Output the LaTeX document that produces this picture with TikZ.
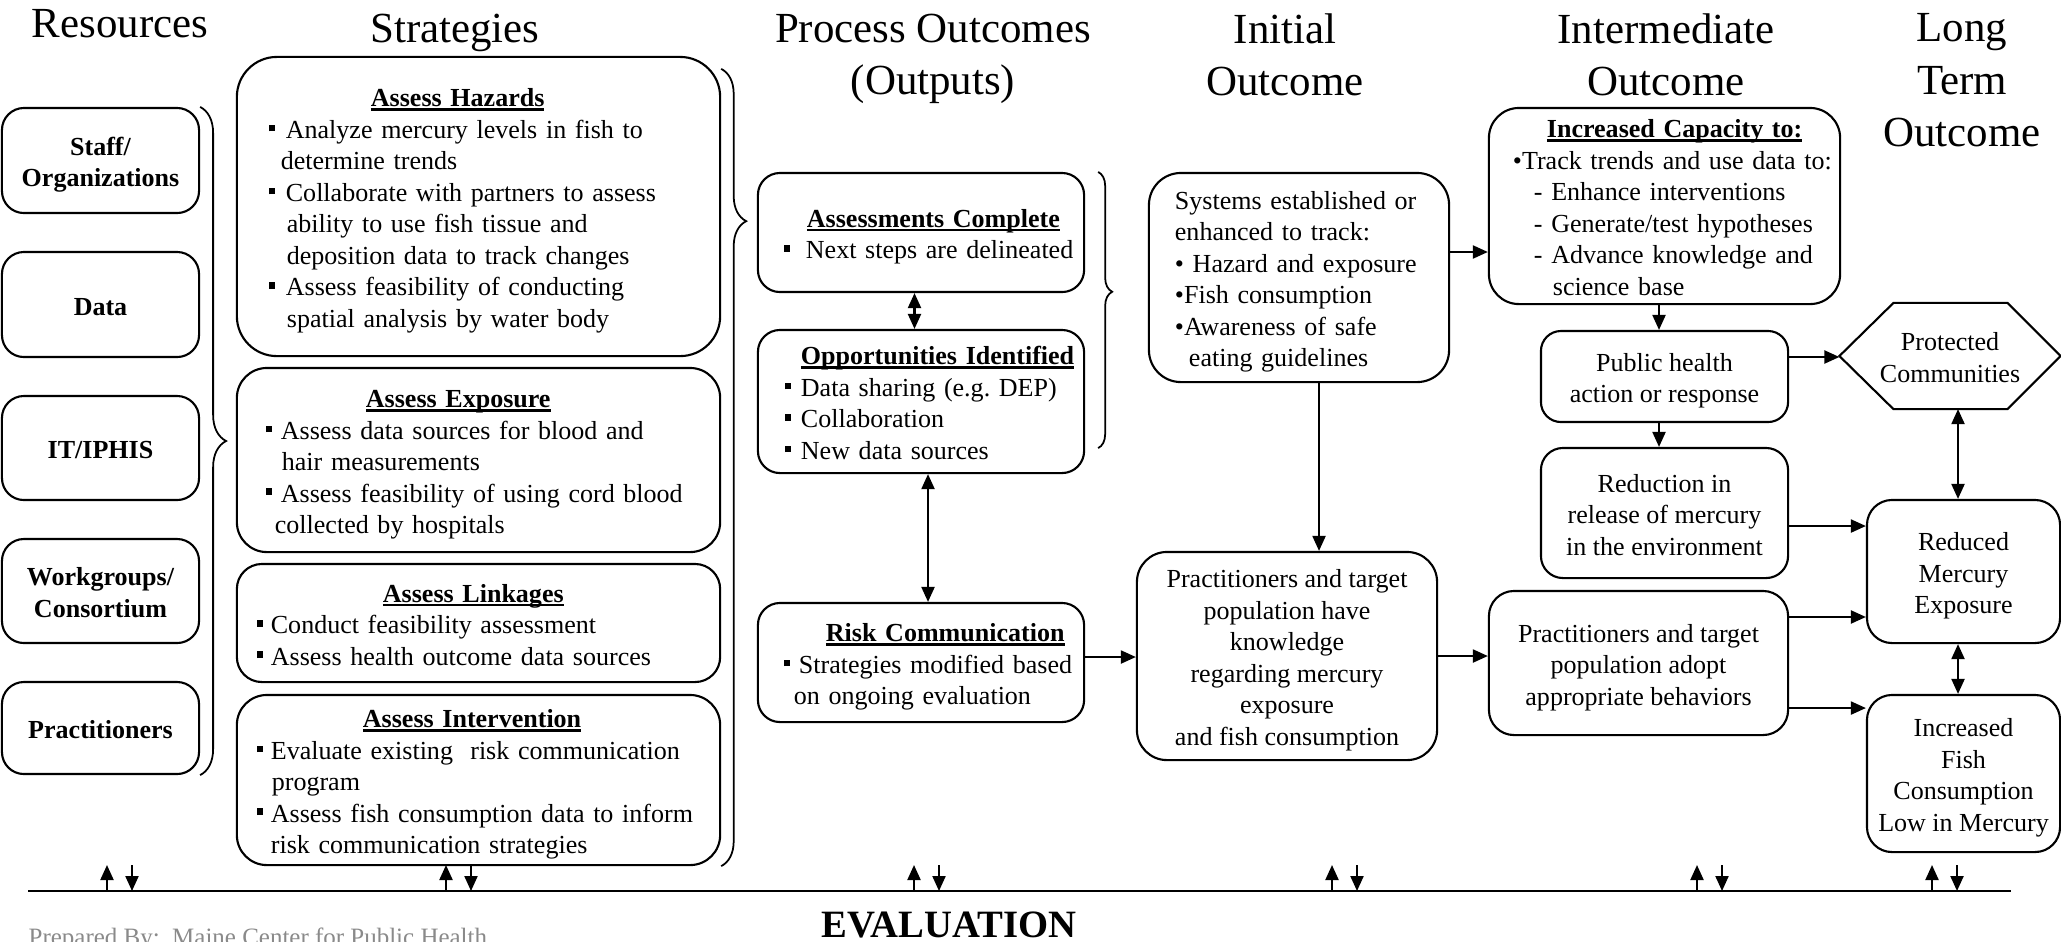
\documentclass[tikz,border=0pt]{standalone}
\usepackage{fontspec}
\setmainfont{Liberation Serif}
\usetikzlibrary{arrows.meta, decorations.pathreplacing, positioning}
\definecolor{footgray}{HTML}{8A8A8A}
\tikzset{
  ttl/.style={font=\fontsize{12.2}{14.9}\selectfont, align=center, inner sep=0pt},
  box/.style={rectangle, rounded corners=0.3cm, draw=black, line width=0.6pt, fill=white,
    inner sep=0pt, font=\fontsize{7.4}{8.95}\selectfont},
  ctr/.style={box, align=center, execute at end node={\rule[-0.06cm]{0pt}{0.06cm}}},
  res/.style={ctr, rounded corners=0.22cm, font=\fontsize{7.4}{8.9}\selectfont\bfseries, minimum width=1.97cm},
  txt/.style={box, text width=#1, execute at begin node={\raggedright\rule{0pt}{0.27cm}}},
  hexa/.style={ctr, draw=none, fill=none},
  arr/.style={-{Triangle[length=0.15cm, width=0.13cm]}, line width=0.6pt},
  dbl/.style={{Triangle[length=0.15cm, width=0.13cm]}-{Triangle[length=0.15cm, width=0.13cm]}, line width=0.6pt},
  brc/.style={decorate, line width=0.5pt},
}
\newcommand{\ST}{\rule{0pt}{0.27cm}}
\newcommand{\LS}[1]{\leftskip=#1\relax}
\newcommand{\EN}{\rule[-0.06cm]{0pt}{0.06cm}\par}
\newcommand{\UL}[1]{\setbox0=\hbox{#1}\rlap{\rule[-0.04cm]{\wd0}{0.025cm}}\box0}
\newcommand{\HD}[2]{\hspace*{#1}\textbf{\UL{#2}}\\}
\newcommand{\BL}[1][0.15cm]{\makebox[#1][l]{\rule[0.07cm]{0.065cm}{0.065cm}}}

\begin{document}
\begin{tikzpicture}[x=0.01cm, y=-0.01cm]
\fill[white] (0,0) rectangle (2061,941);
\useasboundingbox (0,0) rectangle (2061,941);

% column titles
\node[ttl, anchor=base]  (tRes)  at (120,37)  {Resources};
\node[ttl, anchor=base]  (tStr)  at (455,42)  {Strategies};
\node[ttl, anchor=north] (tPro)  at (933,13)  {Process Outcomes\\(Outputs)};
\node[ttl, anchor=north] (tIni)  at (1285,13) {Initial\\Outcome};
\node[ttl, anchor=north] (tInt)  at (1666,13) {Intermediate\\Outcome};
\node[ttl, anchor=north] (tLong) at (1962,13) {Long\\Term\\Outcome};

% resources
\node[res, minimum height=1.05cm] (rStaff) at (100.5,160.5) {\ST Staff/\\Organizations};
\node[res, minimum height=1.05cm] (rData)  at (100.5,304.5) {\ST Data};
\node[res, minimum height=1.04cm] (rIT)    at (100.5,448)   {\ST IT/IPHIS};
\node[res, minimum height=1.04cm] (rWork)  at (100.5,591)   {\ST Workgroups/\\Consortium};
\node[res, minimum height=0.92cm] (rPrac)  at (100.5,728)   {\ST Practitioners};

% strategies
\node[txt=4.71cm, minimum width=4.83cm, minimum height=2.99cm, rounded corners=0.4cm] (sHaz) at (478.5,206.5)
  {\LS{0.26cm}\HD{1.02cm}{Assess Hazards}
   \BL[0.17cm]Analyze mercury levels in fish to\\
   \hspace*{0.12cm}determine trends\\
   \BL[0.17cm]Collaborate with partners to assess\\
   \hspace*{0.18cm}ability to use fish tissue and\\
   \hspace*{0.18cm}deposition data to track changes\\
   \BL[0.17cm]Assess feasibility of conducting\\
   \hspace*{0.18cm}spatial analysis by water body\EN};
\node[txt=4.71cm, minimum width=4.83cm, minimum height=1.84cm] (sExp) at (478.5,460)
  {\LS{0.23cm}\HD{1.00cm}{Assess Exposure}
   \BL Assess data sources for blood and\\
   \hspace*{0.16cm}hair measurements\\
   \BL Assess feasibility of using cord blood\\
   \hspace*{0.09cm}collected by hospitals\EN};
\node[txt=4.71cm, minimum width=4.83cm, minimum height=1.18cm, rounded corners=0.25cm] (sLink) at (478.5,623)
  {\LS{0.14cm}\HD{1.26cm}{Assess Linkages}
   \BL[0.14cm]Conduct feasibility assessment\\
   \BL[0.14cm]Assess health outcome data sources\EN};
\node[txt=4.71cm, minimum width=4.83cm, minimum height=1.70cm] (sInt) at (478.5,780)
  {\LS{0.14cm}\HD{1.06cm}{Assess Intervention}
   \BL[0.14cm]Evaluate existing\ \ risk communication\\
   \hspace*{0.15cm}program\\
   \BL[0.14cm]Assess fish consumption data to inform\\
   \hspace*{0.14cm}risk communication strategies\EN};

% process outcomes
\node[txt=3.14cm, minimum width=3.26cm, minimum height=1.19cm, rounded corners=0.22cm] (pAss) at (921,232.5)
  {\LS{0.2cm}\HD{0.23cm}{Assessments Complete}
   \BL[0.22cm]Next steps are delineated\EN};
\node[txt=3.14cm, minimum width=3.26cm, minimum height=1.43cm, rounded corners=0.22cm] (pOpp) at (921,401.5)
  {\LS{0.21cm}\HD{0.16cm}{Opportunities Identified}
   \BL[0.16cm]Data sharing (e.g.\ DEP)\\
   \BL[0.16cm]Collaboration\\
   \BL[0.16cm]New data sources\EN};
\node[txt=3.14cm, minimum width=3.26cm, minimum height=1.19cm, rounded corners=0.22cm] (pRisk) at (921,662.5)
  {\LS{0.2cm}\HD{0.42cm}{Risk Communication}
   \BL Strategies modified based\\
   \hspace*{0.10cm}on ongoing evaluation\EN};

% initial outcome
\node[txt=2.88cm, minimum width=3.00cm, minimum height=2.09cm, rounded corners=0.32cm] (iSys) at (1299,277.5)
  {\LS{0.2cm}Systems established or\\
   enhanced to track:\\
   • Hazard and exposure\\
   •Fish consumption\\
   •Awareness of safe\\
   \hspace*{0.14cm}eating guidelines\EN};
\node[ctr, minimum width=3.00cm, minimum height=2.08cm] (iKnow) at (1287,656)
  {\ST Practitioners and target\\population have\\knowledge\\regarding mercury\\exposure\\and fish consumption};

% intermediate outcome
\node[txt=3.39cm, minimum width=3.51cm, minimum height=1.96cm] (mCap) at (1664.5,206)
  {\LS{0.18cm}\HD{0.34cm}{Increased Capacity to:}
   •Track trends and use data to:\\
   \hspace*{0.21cm}- Enhance interventions\\
   \hspace*{0.21cm}- Generate/test hypotheses\\
   \hspace*{0.21cm}- Advance knowledge and\\
   \hspace*{0.40cm}science base\EN};
\node[ctr, minimum width=2.47cm, minimum height=0.91cm, rounded corners=0.2cm] (mPub) at (1664.5,376.5)
  {\ST Public health\\action or response};
\node[ctr, minimum width=2.47cm, minimum height=1.30cm, rounded corners=0.22cm] (mRed) at (1664.5,513)
  {\ST Reduction in\\release of mercury\\in the environment};
\node[ctr, minimum width=2.99cm, minimum height=1.44cm, rounded corners=0.25cm] (mAdopt) at (1638.5,663)
  {\ST Practitioners and target\\population adopt\\appropriate behaviors};

% long term outcome
\node[hexa, minimum width=2.19cm, minimum height=1.04cm] (lProt) at (1950,356) {\ST Protected\\Communities};
\draw[line width=0.6pt] (lProt.west) -- ([xshift=0.54cm]lProt.north west) -- ([xshift=-0.53cm]lProt.north east)
  -- (lProt.east) -- ([xshift=-0.53cm]lProt.south east) -- ([xshift=0.54cm]lProt.south west) -- cycle;
\node[ctr, minimum width=1.93cm, minimum height=1.43cm, rounded corners=0.25cm] (lExp) at (1963.5,571.5)
  {\ST Reduced\\Mercury\\Exposure};
\node[ctr, minimum width=1.93cm, minimum height=1.57cm, rounded corners=0.25cm] (lFish) at (1963.5,773.5)
  {\ST Increased\\Fish\\Consumption\\Low in Mercury};

% braces
\draw[brc, decoration={brace, amplitude=0.26cm}] (rStaff.north east) -- (rPrac.south east);
\draw[brc, decoration={brace, amplitude=0.25cm, aspect=0.191}] ([yshift=-0.13cm]sHaz.north east) -- (sInt.south east);
\draw[brc, decoration={brace, amplitude=0.14cm, aspect=0.434}] ([xshift=0.13cm]pAss.north east) -- ([xshift=0.13cm, yshift=0.26cm]pOpp.south east);

% connectors
\draw[dbl] ([xshift=-0.065cm]pAss.south) -- ([xshift=-0.065cm]pOpp.north);
\draw[dbl] ([xshift=0.07cm]pOpp.south) -- ([xshift=0.07cm]pRisk.north);
\coordinate (aRisk) at ([yshift=0.055cm]pRisk.east);
\draw[arr] (aRisk) -- (aRisk -| iKnow.west);
\coordinate (aSysD) at ([xshift=0.2cm]iSys.south);
\draw[arr] (aSysD) -- (aSysD |- iKnow.north);
\coordinate (aSysR) at ([yshift=0.255cm]iSys.east);
\draw[arr] (aSysR) -- (aSysR -| mCap.west);
\draw[arr] (iKnow.east) -- (iKnow.east -| mAdopt.west);
\draw[arr] ([xshift=-0.055cm]mCap.south) -- ([xshift=-0.055cm]mPub.north);
\draw[arr] ([xshift=-0.055cm]mPub.south) -- ([xshift=-0.055cm]mRed.north);
\coordinate (aPub) at ([yshift=0.195cm]mPub.east);
\draw[arr] (aPub) -- (aPub -| lProt.west);
\coordinate (aRed) at ([yshift=-0.13cm]mRed.east);
\draw[arr] (aRed) -- (aRed -| lExp.west);
\coordinate (aAd1) at ([yshift=0.46cm]mAdopt.east);
\draw[arr] (aAd1) -- (aAd1 -| lExp.west);
\coordinate (aAd2) at ([yshift=-0.45cm]mAdopt.east);
\draw[arr] (aAd2) -- (aAd2 -| lFish.west);
\coordinate (aExp) at ([xshift=-0.055cm]lExp.north);
\draw[dbl] (aExp) -- (aExp |- lProt.south);
\draw[dbl] ([xshift=-0.055cm]lExp.south) -- ([xshift=-0.055cm]lFish.north);

% evaluation
\coordinate (evL) at (28,891);
\coordinate (evR) at (2011,891);
\draw[line width=0.6pt] (evL) -- (evR);
\foreach \ex [count=\i] in {107,446,914,1332,1697,1932}{
  \coordinate (up\i) at (\ex,891);
  \coordinate (dn\i) at (\ex+25,891);
  \draw[arr] (up\i) -- ([yshift=0.26cm]up\i);
  \draw[arr] ([yshift=0.26cm]dn\i) -- (dn\i);
}
\node[font=\fontsize{11}{13}\selectfont\bfseries, anchor=base, inner sep=0pt] (eval) at (949,937) {EVALUATION};
\node[font=\fontsize{7.1}{8.5}\selectfont, text=footgray, anchor=base west, inner sep=0pt] (prep) at (28,945)
  {Prepared By:\ \ Maine Center for Public Health};
\end{tikzpicture}
\end{document}
